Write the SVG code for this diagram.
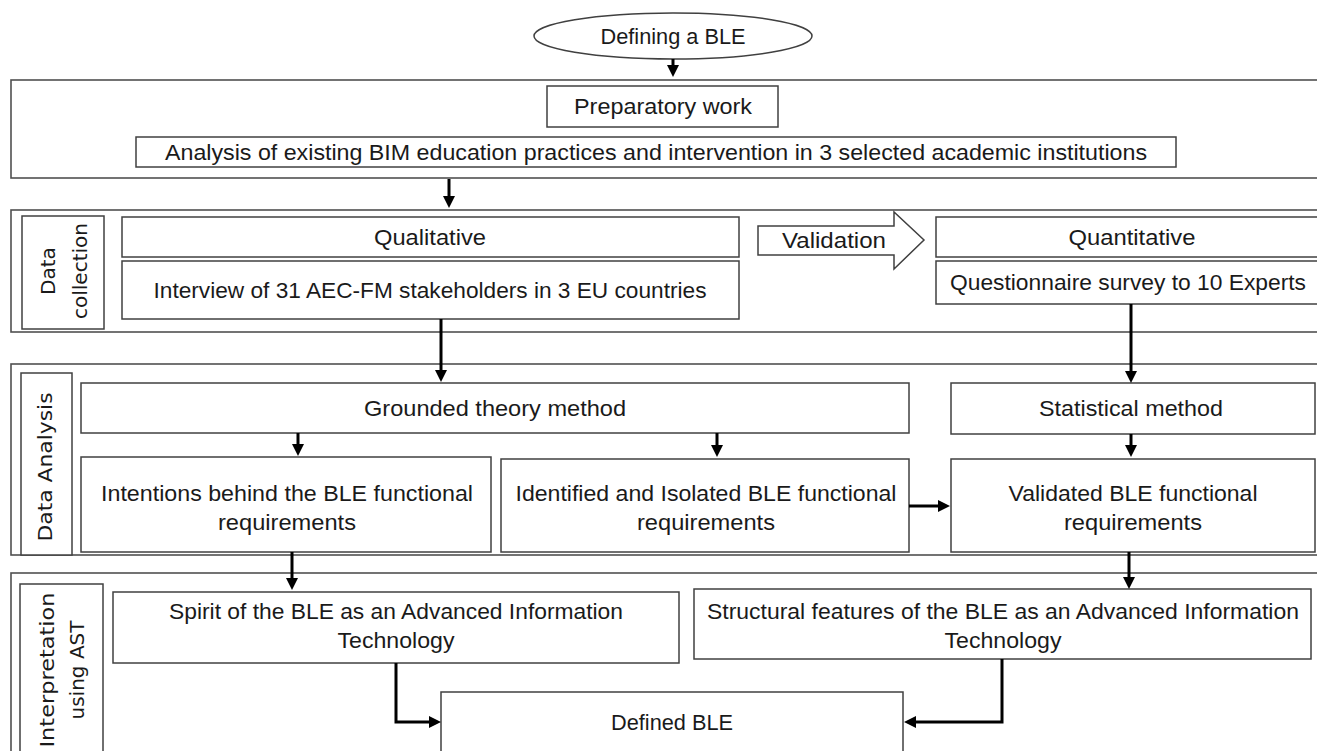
<svg xmlns="http://www.w3.org/2000/svg" width="1317" height="751" viewBox="0 0 1317 751">
<style>
.sec{fill:none;stroke:#505050;stroke-width:1.6}
.box{fill:#fff;stroke:#404040;stroke-width:1.5}
.t{font-family:"Liberation Sans",Arial,sans-serif;font-size:22px;fill:#1a1a1a;text-anchor:middle}
.r{font-family:"DejaVu Sans",Verdana,sans-serif;font-size:20px;fill:#1a1a1a;text-anchor:middle}
.c{fill:none;stroke:#000;stroke-width:3}
</style>
<defs>
<marker id="ah" markerUnits="userSpaceOnUse" markerWidth="12" markerHeight="12" viewBox="0 0 12 12" refX="4" refY="6" orient="auto">
<path d="M0,0 L12,6 L0,12 z" fill="#000"/>
</marker>
</defs>
<rect width="1317" height="751" fill="#fff"/>
<g id="sections">
<rect class="sec" x="11" y="80" width="1320" height="98"/>
<rect class="sec" x="11" y="210" width="1320" height="122"/>
<rect class="sec" x="11" y="364" width="1320" height="191"/>
<rect class="sec" x="11" y="573" width="1320" height="200"/>
</g>
<g id="start">
<ellipse cx="673" cy="36" rx="139" ry="23" class="box"/>
<text class="t" x="673" y="44" textLength="145" lengthAdjust="spacingAndGlyphs">Defining a BLE</text>
</g>
<g id="prep">
<rect class="box" x="547" y="86" width="231" height="41"/>
<text class="t" x="663" y="114" textLength="178" lengthAdjust="spacingAndGlyphs">Preparatory work</text>
</g>
<g id="analysis">
<rect class="box" x="136" y="137" width="1040" height="30"/>
<text class="t" x="656" y="160" textLength="982" lengthAdjust="spacingAndGlyphs">Analysis of existing BIM education practices and intervention in 3 selected academic institutions</text>
</g>
<g id="label-collection">
<rect class="box" x="22" y="216" width="82" height="113"/>
<text class="r" transform="translate(55,271) rotate(-90)">Data</text>
<text class="r" transform="translate(87,271) rotate(-90)">collection</text>
</g>
<g id="qualitative">
<rect class="box" x="122" y="217" width="617" height="40"/>
<text class="t" x="430" y="245" textLength="112" lengthAdjust="spacingAndGlyphs">Qualitative</text>
</g>
<g id="interview">
<rect class="box" x="122" y="261" width="617" height="58"/>
<text class="t" x="430" y="298" textLength="553" lengthAdjust="spacingAndGlyphs">Interview of 31 AEC-FM stakeholders in 3 EU countries</text>
</g>
<g id="validation">
<polygon class="box" points="758,226 894,226 894,212 924,240 894,269 894,255 758,255"/>
<text class="t" x="834" y="248" textLength="104" lengthAdjust="spacingAndGlyphs">Validation</text>
</g>
<g id="quantitative">
<rect class="box" x="936" y="217" width="390" height="40"/>
<text class="t" x="1132" y="245" textLength="127" lengthAdjust="spacingAndGlyphs">Quantitative</text>
</g>
<g id="questionnaire">
<rect class="box" x="936" y="261" width="390" height="43"/>
<text class="t" x="1128" y="290" textLength="356" lengthAdjust="spacingAndGlyphs">Questionnaire survey to 10 Experts</text>
</g>
<g id="label-analysis">
<rect class="box" x="21" y="373" width="51" height="182"/>
<text class="r" transform="translate(52,467) rotate(-90)" textLength="149" lengthAdjust="spacingAndGlyphs">Data Analysis</text>
</g>
<g id="grounded">
<rect class="box" x="81" y="383" width="828" height="50"/>
<text class="t" x="495" y="416" textLength="262" lengthAdjust="spacingAndGlyphs">Grounded theory method</text>
</g>
<g id="statistical">
<rect class="box" x="951" y="383" width="364" height="51"/>
<text class="t" x="1131" y="416" textLength="184" lengthAdjust="spacingAndGlyphs">Statistical method</text>
</g>
<g id="intentions">
<rect class="box" x="81" y="457" width="410" height="95"/>
<text class="t" x="287" y="501" textLength="372" lengthAdjust="spacingAndGlyphs">Intentions behind the BLE functional</text>
<text class="t" x="287" y="530" textLength="138" lengthAdjust="spacingAndGlyphs">requirements</text>
</g>
<g id="identified">
<rect class="box" x="501" y="459" width="408" height="93"/>
<text class="t" x="706" y="501" textLength="381" lengthAdjust="spacingAndGlyphs">Identified and Isolated BLE functional</text>
<text class="t" x="706" y="530" textLength="138" lengthAdjust="spacingAndGlyphs">requirements</text>
</g>
<g id="validated">
<rect class="box" x="951" y="459" width="364" height="93"/>
<text class="t" x="1133" y="501" textLength="249" lengthAdjust="spacingAndGlyphs">Validated BLE functional</text>
<text class="t" x="1133" y="530" textLength="138" lengthAdjust="spacingAndGlyphs">requirements</text>
</g>
<g id="label-interpretation">
<rect class="box" x="20" y="584" width="83" height="190"/>
<text class="r" transform="translate(54,670) rotate(-90)" textLength="155" lengthAdjust="spacingAndGlyphs">Interpretation</text>
<text class="r" transform="translate(84,670) rotate(-90)">using AST</text>
</g>
<g id="spirit">
<rect class="box" x="113" y="592" width="566" height="71"/>
<text class="t" x="396" y="619" textLength="454" lengthAdjust="spacingAndGlyphs">Spirit of the BLE as an Advanced Information</text>
<text class="t" x="396" y="648" textLength="117" lengthAdjust="spacingAndGlyphs">Technology</text>
</g>
<g id="structural">
<rect class="box" x="694" y="589" width="617" height="70"/>
<text class="t" x="1003" y="619" textLength="592" lengthAdjust="spacingAndGlyphs">Structural features of the BLE as an Advanced Information</text>
<text class="t" x="1003" y="648" textLength="117" lengthAdjust="spacingAndGlyphs">Technology</text>
</g>
<g id="defined">
<rect class="box" x="441" y="692" width="462" height="80"/>
<text class="t" x="672" y="730" textLength="122" lengthAdjust="spacingAndGlyphs">Defined BLE</text>
</g>
<g id="connectors">
<path class="c" d="M673,59 V69" marker-end="url(#ah)"/>
<path class="c" d="M449,179 V200" marker-end="url(#ah)"/>
<path class="c" d="M441,319 V374" marker-end="url(#ah)"/>
<path class="c" d="M1131,304 V375" marker-end="url(#ah)"/>
<path class="c" d="M298,433 V448" marker-end="url(#ah)"/>
<path class="c" d="M717,433 V449" marker-end="url(#ah)"/>
<path class="c" d="M1131,434 V449" marker-end="url(#ah)"/>
<path class="c" d="M909,506 H942" marker-end="url(#ah)"/>
<path class="c" d="M292,552 V582" marker-end="url(#ah)"/>
<path class="c" d="M1129,552 V581" marker-end="url(#ah)"/>
<path class="c" d="M396,663 V722 H433" marker-end="url(#ah)"/>
<path class="c" d="M1002,659 V722 H912" marker-end="url(#ah)"/>
</g>
</svg>
